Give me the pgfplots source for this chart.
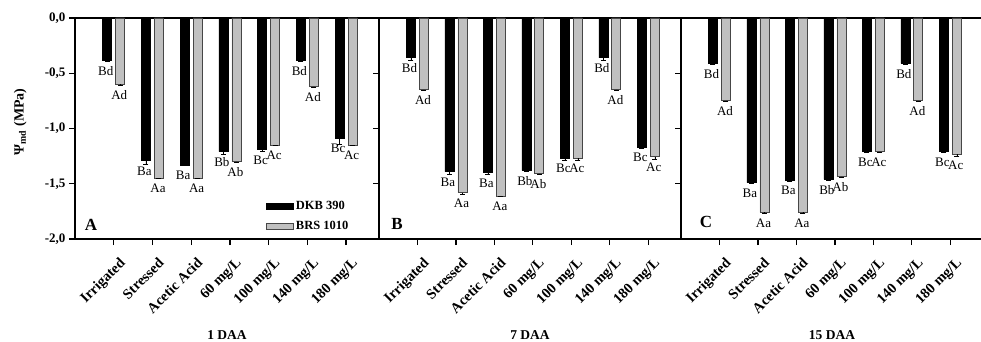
\documentclass[border=0pt]{standalone}
\usepackage{fontspec}
\setmainfont{Liberation Serif}
\usepackage{pgfplots}
\usepackage{pgfplotstable}
\pgfplotsset{compat=1.18}
\definecolor{barg}{RGB}{192,192,192}
\definecolor{bard}{RGB}{70,70,70}

\pgfplotstableread{
x dkb dkbe dkbl brs brse brsl
1 -0.38 0.01 Bd -0.60 0.005 Ad
2 -1.29 0.03 Ba -1.45 0.005 Aa
3 -1.33 0.005 Ba -1.45 0.005 Aa
4 -1.21 0.02 Bb -1.30 0.005 Ab
5 -1.19 0.02 Bc -1.15 0.005 Ac
6 -0.38 0.01 Bd -0.62 0.01 Ad
7 -1.09 0.05 Bc -1.15 0.005 Ac
}\tA
\pgfplotstableread{
x dkb dkbe dkbl brs brse brsl
1 -0.36 0.02 Bd -0.65 0.005 Ad
2 -1.39 0.02 Ba -1.58 0.02 Aa
3 -1.40 0.015 Ba -1.61 0.005 Aa
4 -1.38 0.01 Bb -1.41 0.005 Ab
5 -1.27 0.02 Bc -1.27 0.02 Ac
6 -0.36 0.02 Bd -0.65 0.005 Ad
7 -1.17 0.005 Bc -1.255 0.02 Ac
}\tB
\pgfplotstableread{
x dkb dkbe dkbl brs brse brsl
1 -0.41 0.005 Bd -0.75 0.005 Ad
2 -1.49 0.01 Ba -1.76 0.005 Aa
3 -1.465 0.01 Ba -1.76 0.005 Aa
4 -1.46 0.01 Bb -1.435 0.005 Ab
5 -1.21 0.005 Bc -1.21 0.005 Ac
6 -0.41 0.005 Bd -0.75 0.005 Ad
7 -1.21 0.005 Bc -1.235 0.02 Ac
}\tC

\pgfplotsset{
  panel/.style={
    ybar, bar width=9pt,
    scale only axis, height=221pt,
    xmin=0, xmax=7.85, ymin=-2, ymax=0,
    xtick={1,...,7},
    xticklabels={Irrigated, Stressed, Acetic Acid, 60 mg/L, 100 mg/L, 140 mg/L, 180 mg/L},
    x tick label style={xshift=5pt, yshift=-10pt, rotate=45, anchor=north east, font=\bfseries\fontsize{14.5}{14.5}\selectfont, inner sep=1pt},
    ytick={-2,-1.5,-1,-0.5,0},
    y tick label style={font=\bfseries\fontsize{13}{13}\selectfont},
    tick align=outside, xtick pos=bottom, ytick pos=left,
    major tick length=6pt,
    axis line style={line width=1.2pt},
    every tick/.style={black, line width=1.2pt},
    xlabel style={at={(axis description cs:0.5,-0.434)}, anchor=center, font=\bfseries\fontsize{13.5}{13.5}\selectfont},
    legend image code/.code={\draw[#1] (0pt,-3pt) rectangle (27pt,3pt);},
    clip=false,
  },
  errstyle/.style={
    error bars/y dir=minus, error bars/y explicit,
    error bars/error bar style={black, line width=0.6pt},
    error bars/error mark options={rotate=90, mark size=2.5pt, black, line width=0.6pt}},
  dkbstyle/.style={bar shift=-6.5pt, fill=black, draw=black, line width=0.6pt, errstyle},
  brsstyle/.style={bar shift=6.5pt, fill=barg, draw=bard, line width=0.8pt, errstyle},
  labstyle/.style={draw=none, fill=none, forget plot, point meta=explicit symbolic,
    nodes near coords,
    every node near coord/.append style={font=\fontsize{13}{13}\selectfont, anchor=north, yshift=-2.5pt, black}},
}

\begin{document}
\begin{tikzpicture}
\begin{axis}[panel, width=304pt, at={(0pt,0pt)}, anchor=south west,
  yticklabels={{-2,0},{-1,5},{-1,0},{-0,5},{0,0}},
  ylabel={\bfseries Ψ\textsubscript{md} (MPa)},
  ylabel style={at={(axis description cs:-0.18,0.53)}, anchor=center, font=\bfseries\fontsize{14}{14}\selectfont},
  xlabel={1 DAA},
  legend style={at={(axis description cs:0.628,0.18)}, anchor=north west, draw=none, fill=none,
    inner sep=0pt, row sep=6pt, font=\bfseries\fontsize{12.5}{12.5}\selectfont},
  legend cell align=left,
]
\addplot[dkbstyle] table[x=x, y=dkb, y error=dkbe] {\tA};
\addplot[brsstyle] table[x=x, y=brs, y error=brse] {\tA};
\addplot[labstyle, bar shift=-8pt] table[x=x, y=dkb, meta=dkbl] {\tA};
\addplot[labstyle, bar shift=5.5pt] table[x=x, y=brs, meta=brsl] {\tA};
\legend{DKB 390, BRS 1010}
\node[font=\bfseries\fontsize{17}{17}\selectfont] at (rel axis cs:0.053,0.063) {A};
\end{axis}

\begin{axis}[panel, width=302pt, at={(304pt,0pt)}, anchor=south west,
  yticklabels={},
  xlabel={7 DAA},
]
\addplot[dkbstyle] table[x=x, y=dkb, y error=dkbe] {\tB};
\addplot[brsstyle] table[x=x, y=brs, y error=brse] {\tB};
\addplot[labstyle, bar shift=-8pt] table[x=x, y=dkb, meta=dkbl] {\tB};
\addplot[labstyle, bar shift=5.5pt] table[x=x, y=brs, meta=brsl] {\tB};
\node[font=\bfseries\fontsize{17}{17}\selectfont] at (rel axis cs:0.06,0.068) {B};
\end{axis}

\begin{axis}[panel, width=302pt, at={(606pt,0pt)}, anchor=south west,
  yticklabels={},
  xlabel={15 DAA},
]
\addplot[dkbstyle] table[x=x, y=dkb, y error=dkbe] {\tC};
\addplot[brsstyle] table[x=x, y=brs, y error=brse] {\tC};
\addplot[labstyle, bar shift=-8pt] table[x=x, y=dkb, meta=dkbl] {\tC};
\addplot[labstyle, bar shift=5.5pt] table[x=x, y=brs, meta=brsl] {\tC};
\node[font=\bfseries\fontsize{17}{17}\selectfont] at (rel axis cs:0.083,0.077) {C};
\end{axis}

\pgfresetboundingbox
\path[use as bounding box] (-75pt,-103pt) rectangle (906pt,239pt);
\end{tikzpicture}
\end{document}
